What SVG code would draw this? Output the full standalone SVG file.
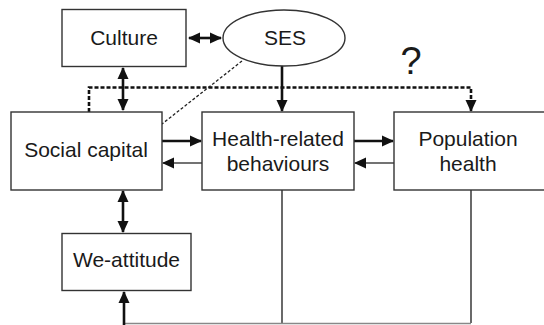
<svg xmlns="http://www.w3.org/2000/svg" width="544" height="325" viewBox="0 0 544 325">
<style>
.box{fill:#fff;stroke:#333;stroke-width:1.4}
.t{font-family:"Liberation Sans",Arial,sans-serif;font-size:21px;fill:#1a1a1a;text-anchor:middle}
.th{stroke:#111;stroke-width:2.6;fill:none}
.tn{stroke:#444;stroke-width:1.6;fill:none}
.gr{stroke:#888;stroke-width:1.4;fill:none}
</style>
<defs>
<marker id="ah" markerUnits="userSpaceOnUse" markerWidth="12" markerHeight="12" viewBox="0 0 12 12" refX="11" refY="6" orient="auto-start-reverse">
<path d="M0,0.5 L12,6 L0,11.5 Z" fill="#111"/>
</marker>
</defs>
<g id="connectors">
<line class="th" x1="189" y1="38" x2="221" y2="38" marker-start="url(#ah)" marker-end="url(#ah)"/>
<line class="th" x1="123" y1="68" x2="123" y2="110" marker-start="url(#ah)" marker-end="url(#ah)"/>
<line class="th" x1="123" y1="191" x2="123" y2="232" marker-start="url(#ah)" marker-end="url(#ah)"/>
<line class="th" x1="282" y1="66" x2="282" y2="111" marker-end="url(#ah)"/>
<path class="th" d="M89,112 V87.5 H471 V111" stroke-dasharray="4,2" marker-end="url(#ah)"/>
<line x1="242" y1="61" x2="162" y2="124" stroke="#222" stroke-width="1.3" stroke-dasharray="3,2"/>
<line class="th" x1="162" y1="141" x2="201" y2="141" marker-end="url(#ah)"/>
<line class="tn" x1="202" y1="163" x2="163" y2="163" marker-end="url(#ah)"/>
<line class="th" x1="354" y1="141" x2="393" y2="141" marker-end="url(#ah)"/>
<line class="tn" x1="394" y1="163" x2="355" y2="163" marker-end="url(#ah)"/>
<line class="tn" x1="282" y1="190" x2="282" y2="323"/>
<line class="tn" x1="471" y1="190" x2="471" y2="323" stroke="#222"/>
<line class="gr" x1="124" y1="323.5" x2="471" y2="323.5"/>
<line class="th" x1="124" y1="325" x2="124" y2="292" marker-end="url(#ah)"/>
<text class="t" x="411" y="74" style="font-size:38px">?</text>
</g>
<g id="culture">
<rect class="box" x="62" y="9.5" width="124" height="57"/>
<text class="t" x="124" y="45">Culture</text>
</g>
<g id="ses">
<ellipse class="box" cx="284" cy="38" rx="61" ry="28"/>
<text class="t" x="285" y="45">SES</text>
</g>
<g id="social-capital">
<rect class="box" x="11" y="112" width="151" height="78"/>
<text class="t" x="86" y="157">Social capital</text>
</g>
<g id="health-related-behaviours">
<rect class="box" x="202" y="112" width="152" height="78"/>
<text class="t" x="278" y="146">Health-related</text>
<text class="t" x="278" y="171">behaviours</text>
</g>
<g id="population-health">
<rect class="box" x="394" y="112" width="160" height="78"/>
<text class="t" x="468" y="146">Population</text>
<text class="t" x="468" y="171">health</text>
</g>
<g id="we-attitude">
<rect class="box" x="62" y="233.5" width="129" height="57"/>
<text class="t" x="126.5" y="267">We-attitude</text>
</g>
</svg>
